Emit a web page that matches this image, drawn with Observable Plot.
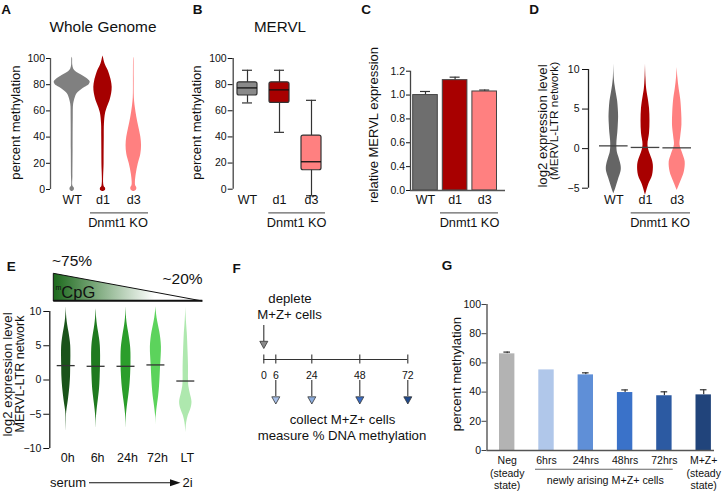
<!DOCTYPE html>
<html><head><meta charset="utf-8">
<script src="https://cdn.jsdelivr.net/npm/d3@7"></script>
<script src="https://cdn.jsdelivr.net/npm/@observablehq/plot@0.6"></script>
<style>
body{margin:0;background:#fff;}
#fig{position:relative;width:724px;height:493px;overflow:hidden;background:#fff;}
</style></head><body><div id="fig"></div><script>
// ---------------- DATA ----------------
// A: whole-genome methylation violins, [percent methylation, relative density]
const aCats = ["WT", "d1", "d3"];
const aTicks = [0, 20, 40, 60, 80, 100];
const aWT = [[-1.5,0],[-0.5,11],[1,12],[2.5,4],[10,4],[30,5],[55,6],[65,8],[70,17],[72,22],[74,33],[76,50],[78,72],[80,94],[82,100],[84,89],[87,56],[90,19],[92,8],[95,3],[100,2],[101,0]];
const aD1 = [[-1.5,0],[-0.5,14],[1,14],[2.5,6],[20,6],[40,7],[50,8],[58,14],[63,25],[68,39],[73,48],[78,51],[83,46],[88,36],[91,28],[96,11],[101,2],[102,0]];
const aD3 = [[-1.5,0],[-0.5,14],[1,17],[3,10],[5.6,9],[12,14],[19.6,25],[27,39],[33.6,43],[40,39],[47.5,28],[55,17],[63,8],[70,3],[85,2],[100,1],[101,0]];
// B: MERVL methylation box plots
const bCats = ["WT", "d1", "d3"];
const bTicks = [0, 20, 40, 60, 80, 100];
const bMin = [66, 43.5, -5];
const bQ1 = [71.7, 66, 14.5];
const bMed = [77.5, 76, 21];
const bQ3 = [81.8, 81.8, 41];
const bMax = [91, 91, 68];
// C: relative MERVL expression
const cCats = ["WT", "d1", "d3"];
const cTicks = [0.2, 0.4, 0.6, 0.8, 1.0, 1.2];
const cTickLabels = ["0.0", "0.4", "0.6", "0.8", "1.0", "1.2"];
const cMean = [1.0, 1.125, 1.03];
const cErr = [0.03, 0.025, 0.012];
// D: log2 expression (MERVL-LTR network), [log2 level, relative density]
const dCats = ["WT", "d1", "d3"];
const dTicks = [-5, 0, 5, 10];
const dWT = [[-5.7,0],[-5,25],[-4,56],[-3,88],[-2.5,94],[-2,88],[-1,60],[-0.5,45],[0.3,38],[1,40],[2,50],[3,56],[4,60],[5,56],[6,48],[7,31],[8,15],[9,5],[10.7,0]];
const dD1 = [[-5.9,0],[-4.6,38],[-3.4,88],[-2.1,98],[-1.3,81],[-0.5,50],[0.45,31],[1.9,50],[3.5,56],[5.1,50],[6.5,31],[7.5,15],[9,5],[10.7,0]];
const dD3 = [[-5.3,0],[-4.2,44],[-3,88],[-1.7,100],[-0.8,75],[0.45,35],[1.5,44],[3,59],[4.5,56],[6.2,44],[7.5,25],[9,8],[10.3,0]];
const dMedian = [0.35, 0.15, 0.1];
// E: serum -> 2i time course
const eCats = ["0h", "6h", "24h", "72h", "LT"];
const eTicks = [-10, -5, 0, 5, 10];
const e0h = [[-7.4,0],[-6,3],[-5,5],[-4.3,13],[-3.5,27],[-2.5,42],[-1.5,55],[-0.5,65],[0.5,72],[2,75],[3.5,78],[5,75],[6,63],[7,45],[8,25],[9,10],[10,3],[10.7,0]];
const e6h = [[-7,0],[-6,3],[-5.3,7],[-4.5,15],[-3.5,28],[-2.5,42],[-1.5,55],[-0.5,63],[0.5,68],[2,73],[3.5,75],[5,70],[6,58],[7,40],[8,22],[9,9],[10,3],[10.4,0]];
const e24h = [[-7.2,0],[-6,3],[-5,8],[-4,20],[-3,35],[-2,50],[-1,63],[0,72],[1,78],[2.5,83],[4,82],[5,75],[6,60],[7,42],[8,23],[9,9],[10,3],[10.7,0]];
const e72h = [[-6.5,0],[-5.5,3],[-4.8,10],[-3.5,28],[-2.4,45],[-1,60],[0.5,70],[2,78],[3.5,88],[4.8,92],[6,82],[7,65],[8,42],[9,20],[10,6],[10.7,0]];
const eLT = [[-7.7,0],[-7,5],[-6.2,15],[-5.2,42],[-4.2,85],[-3.2,103],[-2,75],[-1,52],[0,45],[1.9,45],[4,38],[6.8,25],[8,15],[9.5,5],[10.7,0]];
const eMedian = [2.1, 2.0, 2.0, 2.2, -0.15];
const eMcpgStart = "~75%", eMcpgEnd = "~20%";
// F: schematic time points (hours)
const fTimes = [0, 6, 24, 48, 72];
const fDeplete = [0];
const fCollect = [6, 24, 48, 72];
// G: percent methylation of newly arising M+Z+ cells
const gCats = ["Neg\n(steady\nstate)", "6hrs", "24hrs", "48hrs", "72hrs", "M+Z+\n(steady\nstate)"];
const gTicks = [0, 20, 40, 60, 80, 100];
const gMean = [66.2, 55.2, 51.8, 39.7, 37.5, 38.1];
const gErr = [1.2, 0, 1.4, 1.8, 2.7, 3.5];

// ---------------- STYLE / LAYOUT ----------------
const W = 724, H = 493;
const FONT = "'Liberation Sans', Arial, Helvetica, sans-serif";
const fig = document.getElementById("fig");
const colA = ["#808080", "#a50000", "#ff8080"];
const colB = ["#8a8a8a", "#a80000", "#ff8080"];
const colC = ["#6e6e6e", "#a80000", "#ff8080"];
const colD = ["#656565", "#a80000", "#ff8080"];
const colE = ["#1a531a", "#1f7a1f", "#2b9e2b", "#5cd35c", "#aee8ae"];
const colF = ["#a6bfe8", "#8daedf", "#3b6dc4", "#1f4a8e"];
const colG = ["#b3b3b3", "#b0c7ea", "#5f8fd7", "#3a72c9", "#2c5aa2", "#21447b"];

function place(svg) { svg.style.position = "absolute"; svg.style.left = "0px"; svg.style.top = "0px"; fig.appendChild(svg); }
function frame(L, R, T, B) {
  return {width: W, height: H, marginLeft: L, marginRight: W - R, marginTop: T, marginBottom: H - B,
    color: {type: "identity"},
    style: {background: "transparent", fontFamily: FONT, color: "#111", overflow: "visible"}};
}
function idxDomain(p) { return [(p.L - p.c0) / p.step, (p.R - p.c0) / p.step]; }
function violin(profile, i, k, fill) {
  return Plot.areaX(profile, {y: d => d[0], x1: d => i - d[1] * k, x2: d => i + d[1] * k, fill, curve: "catmull-rom"});
}
const idx = (d, i) => i;

// ---------------- A ----------------
const LA = {L: 50, R: 160, T: 58, B: 189, c0: 71.7, step: 30.8, vw: 18};
const kA = LA.vw / LA.step / 100;
place(Plot.plot({...frame(LA.L, LA.R, LA.T, LA.B),
  x: {domain: idxDomain(LA), axis: null},
  y: {domain: [0, 100]},
  marks: [
    Plot.axisY({ticks: aTicks, tickSize: 4, tickPadding: 1.5, fontSize: 10.5, label: null}),
    Plot.ruleX([idxDomain(LA)[0]], {stroke: "#555", strokeWidth: 1.3}),
    ...[aWT, aD1, aD3].map((p, i) => violin(p, i, kA, colA[i])),
    Plot.text(aCats, {x: idx, frameAnchor: "bottom", dy: 14, fontSize: 12.5})
  ]}));

// ---------------- B ----------------
const LB = {L: 232.7, R: 330, T: 58, B: 188.7, c0: 247, step: 32};
const bBox = 10 / LB.step, bCap = 5 / LB.step;
place(Plot.plot({...frame(LB.L, LB.R, LB.T, LB.B),
  x: {domain: idxDomain(LB), axis: null},
  y: {domain: [0, 100]},
  marks: [
    Plot.axisY({ticks: bTicks, tickSize: 5, tickPadding: 1.5, fontSize: 10.5, label: null}),
    Plot.ruleX([idxDomain(LB)[0]], {stroke: "#444", strokeWidth: 1.3}),
    Plot.ruleX(bCats, {x: idx, y1: (d, i) => bMin[i], y2: (d, i) => bMax[i], stroke: "#333", strokeWidth: 1.2}),
    Plot.ruleY(bCats, {y: (d, i) => bMin[i], x1: (d, i) => i - bCap, x2: (d, i) => i + bCap, stroke: "#333", strokeWidth: 1.2}),
    Plot.ruleY(bCats, {y: (d, i) => bMax[i], x1: (d, i) => i - bCap, x2: (d, i) => i + bCap, stroke: "#333", strokeWidth: 1.2}),
    Plot.rectY(bCats, {x1: (d, i) => i - bBox, x2: (d, i) => i + bBox, y1: (d, i) => bQ1[i], y2: (d, i) => bQ3[i], fill: (d, i) => colB[i], stroke: "#333", strokeWidth: 1.2, rx: 2}),
    Plot.ruleY(bCats, {y: (d, i) => bMed[i], x1: (d, i) => i - bBox, x2: (d, i) => i + bBox, stroke: "#111", strokeWidth: 1.3}),
    Plot.text(bCats, {x: idx, frameAnchor: "bottom", dy: 14.3, fontSize: 12.5})
  ]}));

// ---------------- C ----------------
const LC = {L: 410, R: 505, T: 70.7, B: 190, c0: 425, step: 29.6};
const cBar = 12.3 / LC.step, cCap = 5 / LC.step;
place(Plot.plot({...frame(LC.L, LC.R, LC.T, LC.B),
  x: {domain: idxDomain(LC), axis: null},
  y: {domain: [cTicks[0], cTicks[cTicks.length - 1]]},
  marks: [
    Plot.axisY({ticks: cTicks, tickFormat: d => cTickLabels[cTicks.indexOf(d)], tickSize: 4, tickPadding: 1.5, fontSize: 10.5, label: null}),
    Plot.ruleX([idxDomain(LC)[0]], {stroke: "#444", strokeWidth: 1.3}),
    Plot.ruleX(cCats, {x: idx, y1: (d, i) => cMean[i], y2: (d, i) => cMean[i] + cErr[i], stroke: "#333", strokeWidth: 1.2}),
    Plot.ruleY(cCats, {y: (d, i) => cMean[i] + cErr[i], x1: (d, i) => i - cCap, x2: (d, i) => i + cCap, stroke: "#333", strokeWidth: 1.2}),
    Plot.rectY(cCats, {x1: (d, i) => i - cBar, x2: (d, i) => i + cBar, y1: cTicks[0], y2: (d, i) => cMean[i], fill: (d, i) => colC[i], stroke: "#444", strokeWidth: 1}),
    Plot.ruleY([cTicks[0]], {stroke: "#555", strokeWidth: 1.5}),
    Plot.text(cCats, {x: idx, frameAnchor: "bottom", dy: 13, fontSize: 12.5})
  ]}));

// ---------------- D ----------------
const LD = {L: 588, R: 700, T: 69, B: 187.7, c0: 613.3, step: 31.7, vw: 8};
const kD = LD.vw / LD.step / 100, dHalf = 14.3 / LD.step;
place(Plot.plot({...frame(LD.L, LD.R, LD.T, LD.B),
  x: {domain: idxDomain(LD), axis: null},
  y: {domain: [-5, 10]},
  marks: [
    Plot.axisY({ticks: dTicks, tickSize: 6, tickPadding: 3, fontSize: 10.5, label: null}),
    Plot.ruleX([idxDomain(LD)[0]], {stroke: "#222", strokeWidth: 1.3}),
    ...[dWT, dD1, dD3].map((p, i) => violin(p, i, kD, colD[i])),
    Plot.ruleY(dMedian, {y: d => d, x1: (d, i) => i - dHalf, x2: (d, i) => i + dHalf, stroke: "#444", strokeWidth: 1.3}),
    Plot.text(dCats, {x: idx, frameAnchor: "bottom", dy: 15.3, fontSize: 12.5})
  ]}));

// ---------------- E ----------------
const LE = {L: 49.3, R: 200, T: 311, B: 448, c0: 65.7, step: 29.9, vw: 6};
const kE = LE.vw / LE.step / 100, eHalf = 9 / LE.step;
place(Plot.plot({...frame(LE.L, LE.R, LE.T, LE.B),
  x: {domain: idxDomain(LE), axis: null},
  y: {domain: [-10, 10]},
  marks: [
    Plot.axisY({ticks: eTicks, tickSize: 6, tickPadding: 2.5, fontSize: 10.5, label: null}),
    Plot.ruleX([idxDomain(LE)[0]], {stroke: "#222", strokeWidth: 1.3}),
    ...[e0h, e6h, e24h, e72h, eLT].map((p, i) => violin(p, i, kE, colE[i])),
    Plot.ruleY(eMedian, {y: d => d, x1: (d, i) => i - eHalf, x2: (d, i) => i + eHalf, stroke: "#333", strokeWidth: 1.3}),
    Plot.text(eCats, {x: (d, i) => i + 0.05, frameAnchor: "bottom", dy: 13, fontSize: 12.5})
  ]}));

// ---------------- F ----------------
const downTri = {draw(ctx, size) { const s = Math.sqrt(size / Math.PI); ctx.moveTo(-s, -s * 0.8); ctx.lineTo(s, -s * 0.8); ctx.lineTo(0, s); ctx.closePath(); }};
const LF = {L: 263.3, R: 407.3, line: 359};
place(Plot.plot({...frame(LF.L, LF.R, 0, H),
  x: {domain: [fTimes[0], fTimes[fTimes.length - 1]], axis: null},
  y: {type: "identity", axis: null},
  marks: [
    Plot.ruleX(fDeplete, {x: d => d, y1: 325, y2: 341, stroke: "#333", strokeWidth: 1.1}),
    Plot.dot(fDeplete, {x: d => d, y: 344, r: 4, symbol: downTri, fill: "#8a8a8a", stroke: "#333", strokeWidth: 0.8}),
    Plot.ruleY([fTimes], {y: () => LF.line, x1: d => d3.min(d), x2: d => d3.max(d), stroke: "#333", strokeWidth: 1.1}),
    Plot.ruleX(fTimes, {x: d => d, y1: LF.line - 4.5, y2: LF.line + 4.5, stroke: "#333", strokeWidth: 1.1}),
    Plot.text(fTimes, {x: d => d, y: 375, text: d => String(d), fontSize: 10.5}),
    Plot.ruleX(fCollect, {x: d => d, y1: 380, y2: 396, stroke: "#333", strokeWidth: 1.1}),
    Plot.dot(fCollect, {x: d => d, y: 399.5, r: 4, symbol: downTri, fill: (d, i) => colF[i], stroke: "#333", strokeWidth: 0.8})
  ]}));

// ---------------- G ----------------
const LG = {L: 486.5, R: 714, T: 304, B: 450, c0: 506.7, step: 39.3};
const gBar = 7.7 / LG.step, gCap = 3.3 / LG.step;
const gErrIdx = gCats.map((d, i) => i).filter(i => gErr[i] > 0);
place(Plot.plot({...frame(LG.L, LG.R, LG.T, LG.B),
  x: {domain: idxDomain(LG), axis: null},
  y: {domain: [0, 100]},
  marks: [
    Plot.axisY({ticks: gTicks, tickSize: 5, tickPadding: 1, fontSize: 10.5, label: null, stroke: "#444"}),
    Plot.ruleX([idxDomain(LG)[0]], {stroke: "#555", strokeWidth: 1.4}),
    Plot.ruleX(gErrIdx, {x: i => i, y1: i => gMean[i], y2: i => gMean[i] + gErr[i], stroke: "#333", strokeWidth: 1.2}),
    Plot.ruleY(gErrIdx, {y: i => gMean[i] + gErr[i], x1: i => i - gCap, x2: i => i + gCap, stroke: "#333", strokeWidth: 1.2}),
    Plot.rectY(gCats, {x1: (d, i) => i - gBar, x2: (d, i) => i + gBar, y1: 0, y2: (d, i) => gMean[i], fill: (d, i) => colG[i]}),
    Plot.ruleY([0], {stroke: "#555", strokeWidth: 1.6}),
    Plot.text(gCats, {x: idx, frameAnchor: "bottom", dy: 5, lineAnchor: "top", lineHeight: 1.17, fontSize: 10.5})
  ]}));

// ---------------- ANNOTATIONS ----------------
const ann = d3.create("svg").attr("width", W).attr("height", H)
  .style("position", "absolute").style("left", "0px").style("top", "0px").style("font-family", FONT);
const grad = ann.append("defs").append("linearGradient").attr("id", "mcpg").attr("x1", "0").attr("x2", "1").attr("y1", "0").attr("y2", "0");
grad.append("stop").attr("offset", "0%").attr("stop-color", "#1c691c");
grad.append("stop").attr("offset", "68%").attr("stop-color", "#ffffff");
function txt(s, x, y, size, o = {}) {
  const t = ann.append("text").attr("x", x).attr("y", y).attr("font-size", size)
    .attr("text-anchor", o.anchor || "middle").attr("dominant-baseline", "central").attr("fill", "#111").text(s);
  if (o.bold) t.attr("font-weight", "bold");
  if (o.rotate) t.attr("transform", `rotate(-90 ${x} ${y})`);
  return t;
}
function line(x1, y1, x2, y2, stroke = "#666", w = 1.2) {
  ann.append("line").attr("x1", x1).attr("y1", y1).attr("x2", x2).attr("y2", y2).attr("stroke", stroke).attr("stroke-width", w);
}
// panel letters
[["A", 6.2, 9.5], ["B", 197.5, 9.5], ["C", 366, 9.5], ["D", 534, 9.5], ["E", 11.3, 266.3], ["F", 236.5, 268.5], ["G", 447, 265.3]]
  .forEach(([s, x, y]) => txt(s, x, y, 13.5, {bold: true}));
// titles
txt("Whole Genome", 103, 26, 15.4);
txt("MERVL", 280, 26.7, 15.2);
// y labels
txt("percent methylation", 15, 122.5, 13.1, {rotate: true});
txt("percent methylation", 196.7, 122.5, 13.1, {rotate: true});
txt("relative MERVL expression", 373, 125, 13, {rotate: true});
txt("log2 expression level", 542, 126, 13.2, {rotate: true});
txt("(MERVL-LTR network)", 553.5, 121, 11.8, {rotate: true});
txt("log2 expression level", 7.5, 374.5, 13.3, {rotate: true});
txt("MERVL-LTR network", 19.5, 374, 12.5, {rotate: true});
txt("percent methylation", 456.7, 374, 13.1, {rotate: true});
// Dnmt1 KO brackets
[[90, 148, 118], [268.3, 325, 296.7], [440, 498, 469.5], [630.7, 690, 660]].forEach(([a, b, c]) => {
  line(a, 212.8, b, 212.8);
  txt("Dnmt1 KO", c, 222.3, 12.8);
});
// E header wedge
ann.append("polygon").attr("points", "53.3,273.3 53.3,301 202.3,301").attr("fill", "url(#mcpg)").attr("stroke", "#111").attr("stroke-width", 1);
line(53.3, 300.6, 202.3, 300.6, "#111", 1.6);
txt(eMcpgStart, 72, 260.7, 15.5);
txt(eMcpgEnd, 182.5, 278, 15.5);
const mc = ann.append("text").attr("x", 55.5).attr("y", 291.7).attr("font-size", 16.5).attr("dominant-baseline", "central").attr("fill", "#111");
mc.append("tspan").attr("font-size", 7).attr("dy", -4.5).text("m");
mc.append("tspan").attr("dy", 4.5).text("CpG");
// serum -> 2i
txt("serum", 68, 482.7, 13);
line(89, 482.8, 172, 482.8, "#111", 1.1);
ann.append("polygon").attr("points", "170,479.3 180.5,482.8 170,486.3").attr("fill", "#111");
txt("2i", 187.5, 482.7, 13);
// F texts
txt("deplete", 290, 298.3, 13.2);
txt("M+Z+ cells", 289.5, 314, 13.2);
txt("collect M+Z+ cells", 342.5, 419.3, 13.2);
txt("measure % DNA methylation", 342, 435, 13.2);
// G bracket
line(535, 469.3, 672.7, 469.3, "#666", 1.1);
txt("newly arising M+Z+ cells", 605.3, 480, 10.7);
fig.appendChild(ann.node());
</script></body></html>
